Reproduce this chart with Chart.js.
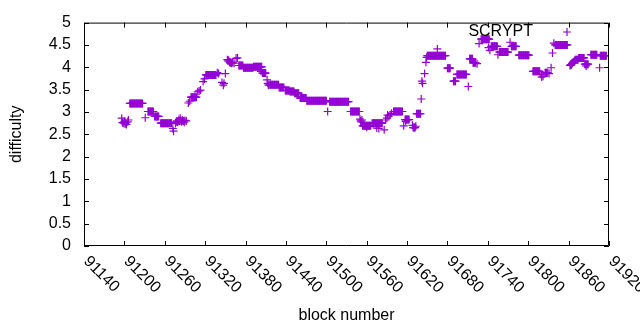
<!DOCTYPE html>
<html>
<head>
<meta charset="utf-8">
<script src="https://cdn.jsdelivr.net/npm/chart.js@4/dist/chart.umd.min.js"></script>
<style>
  html, body { margin: 0; padding: 0; background: #fff; }
</style>
</head>
<body>
<canvas id="chart" width="640" height="330"></canvas>
<script>
// difficulty held constant over a stretch of blocks: [first block, last block, difficulty]
const difficultyRuns = [
  [91208, 91227, 3.19], [91235, 91243, 3.01], [91245, 91251, 2.90], [91254, 91270, 2.75],
  [91299, 91307, 3.33], [91321, 91336, 3.83], [91370, 91376, 4.04], [91377, 91391, 3.99],
  [91392, 91404, 4.01], [91405, 91410, 3.87], [91416, 91429, 3.61], [91430, 91437, 3.55],
  [91439, 91445, 3.48], [91446, 91452, 3.46], [91453, 91459, 3.42], [91461, 91470, 3.31],
  [91471, 91500, 3.25], [91505, 91533, 3.23], [91536, 91549, 3.01], [91554, 91566, 2.69],
  [91568, 91583, 2.75], [91600, 91613, 3.01], [91617, 91623, 2.83], [91629, 91632, 2.65],
  [91634, 91640, 2.96], [91650, 91677, 4.26], [91680, 91684, 3.98], [91689, 91692, 3.69],
  [91694, 91708, 3.84], [91713, 91717, 4.19], [91718, 91722, 4.10], [91730, 91742, 4.63],
  [91745, 91754, 4.47], [91757, 91770, 4.34], [91775, 91782, 4.47], [91786, 91801, 4.27],
  [91807, 91817, 3.91], [91825, 91829, 3.88], [91840, 91858, 4.50], [91870, 91874, 4.17],
  [91875, 91883, 4.21], [91884, 91889, 4.07], [91893, 91902, 4.28], [91907, 91916, 4.26]
];

// scattered single blocks: [block, difficulty]
const singleBlocks = [
  [91196, 2.86], [91197, 2.76], [91199, 2.75], [91200, 2.79], [91201, 2.73], [91202, 2.76],
  [91203, 2.72], [91205, 2.78], [91206, 2.82], [91231, 2.87], [91272, 2.63], [91273, 2.57],
  [91276, 2.74], [91277, 2.78], [91278, 2.80], [91279, 2.77], [91280, 2.79], [91281, 2.83],
  [91282, 2.80], [91283, 2.86], [91284, 2.80], [91285, 2.78], [91286, 2.82], [91287, 2.80],
  [91288, 2.80], [91289, 2.77], [91290, 2.81], [91292, 2.80], [91295, 3.20], [91297, 3.24],
  [91309, 3.45], [91311, 3.47], [91313, 3.49], [91317, 3.68], [91319, 3.74], [91338, 3.88],
  [91340, 3.86], [91345, 3.66], [91347, 3.60], [91348, 3.64], [91350, 3.86], [91353, 4.17],
  [91354, 4.14], [91355, 4.16], [91356, 4.12], [91357, 4.10], [91358, 4.11], [91359, 4.09],
  [91360, 4.10], [91361, 4.11], [91363, 4.09], [91366, 4.20], [91368, 4.21], [91403, 3.91],
  [91412, 3.72], [91413, 3.64], [91414, 3.60], [91463, 3.34], [91502, 3.01], [91550, 2.84],
  [91551, 2.80], [91552, 2.78], [91553, 2.82], [91560, 2.66], [91575, 2.64], [91578, 2.63],
  [91586, 2.60], [91588, 2.82], [91590, 2.86], [91591, 2.93], [91593, 2.91], [91595, 2.94],
  [91597, 2.97], [91615, 2.69], [91618, 2.79], [91628, 2.70], [91633, 2.68], [91641, 3.29],
  [91642, 3.69], [91643, 3.64], [91646, 3.86], [91648, 4.11], [91649, 4.22], [91665, 4.41],
  [91711, 3.57], [91724, 4.08], [91727, 4.53], [91741, 4.44], [91743, 4.38], [91755, 4.28],
  [91773, 4.56], [91819, 3.84], [91820, 3.78], [91822, 3.80], [91831, 3.86], [91834, 3.99],
  [91836, 4.32], [91838, 4.54], [91862, 4.04], [91863, 4.06], [91864, 4.05], [91865, 4.08],
  [91866, 4.10], [91867, 4.12], [91868, 4.13], [91869, 4.15], [91886, 4.03], [91906, 3.99]
];

const xTicks = [91140, 91200, 91260, 91320, 91380, 91440, 91500, 91560, 91620, 91680, 91740, 91800, 91860, 91920];
const yTicks = [0, 0.5, 1, 1.5, 2, 2.5, 3, 3.5, 4, 4.5, 5];
const seriesName = 'SCRYPT';

const purple = '#9400d3';
const font = { family: "'Liberation Sans', Arial, sans-serif", size: 16 };

// one point per block of every run, plus the single blocks
const points = [];
difficultyRuns.forEach(([from, to, d]) => {
  for (let b = from; b <= to; b++) points.push({ x: b, y: d });
});
singleBlocks.forEach(([b, d]) => points.push({ x: b, y: d }));

// gnuplot style frame, inward ticks, slanted x labels and the key
const gnuplotFrame = {
  id: 'gnuplotFrame',
  afterDatasetsDraw(chart) {
    const { ctx, chartArea: a, scales: { x, y } } = chart;
    ctx.save();
    ctx.strokeStyle = '#000';
    ctx.lineWidth = 1;
    ctx.beginPath();
    ctx.rect(a.left + 0.5, a.top + 0.5, a.right - a.left - 1, a.bottom - a.top - 1);
    xTicks.forEach(t => {
      const px = Math.round(x.getPixelForValue(t)) + 0.5;
      ctx.moveTo(px, a.bottom); ctx.lineTo(px, a.bottom - 5);
      ctx.moveTo(px, a.top); ctx.lineTo(px, a.top + 5);
    });
    yTicks.forEach(t => {
      const py = Math.round(y.getPixelForValue(t)) + 0.5;
      ctx.moveTo(a.left, py); ctx.lineTo(a.left + 5, py);
      ctx.moveTo(a.right, py); ctx.lineTo(a.right - 5, py);
    });
    ctx.stroke();

    ctx.fillStyle = '#000';
    ctx.font = `${font.size}px ${font.family}`;
    ctx.textAlign = 'left';
    ctx.textBaseline = 'middle';
    xTicks.forEach(t => {
      const px = x.getPixelForValue(t);
      ctx.save();
      ctx.translate(px + 2, a.bottom + 13);
      ctx.rotate(Math.PI / 4);
      ctx.fillText(String(t), 0, 0);
      ctx.restore();
    });

    ctx.textAlign = 'right';
    ctx.fillText(seriesName, 533, 32);
    ctx.strokeStyle = purple;
    ctx.lineWidth = 1.2;
    ctx.beginPath();
    ctx.moveTo(563, 32); ctx.lineTo(571, 32);
    ctx.moveTo(567, 28); ctx.lineTo(567, 36);
    ctx.stroke();
    ctx.restore();
  }
};

new Chart(document.getElementById('chart'), {
  type: 'scatter',
  data: {
    datasets: [{
      label: seriesName,
      data: points,
      pointStyle: 'cross',
      pointRadius: 4,
      pointHoverRadius: 4,
      borderColor: purple,
      backgroundColor: purple,
      borderWidth: 1.2,
      showLine: false
    }]
  },
  options: {
    responsive: false,
    animation: false,
    events: [],
    layout: { padding: { top: 19, right: 31, left: 0, bottom: 0 } },
    plugins: { legend: { display: false }, tooltip: { enabled: false } },
    scales: {
      x: {
        type: 'linear',
        min: 91140,
        max: 91920,
        grid: { display: false, drawTicks: false },
        border: { display: false },
        ticks: { display: false, stepSize: 60 },
        title: { display: true, text: 'block number', color: '#000', font, padding: { bottom: 5 } },
        afterFit: s => { s.height = 84; }
      },
      y: {
        min: 0,
        max: 5,
        grid: { display: false, drawTicks: false },
        border: { display: false },
        ticks: { stepSize: 0.5, color: '#000', font, padding: 13, callback: v => String(v) },
        title: { display: true, text: 'difficulty', color: '#000', font, padding: { top: 7 } },
        afterFit: s => { s.width = 84; }
      }
    }
  },
  plugins: [gnuplotFrame]
});
</script>
</body>
</html>
